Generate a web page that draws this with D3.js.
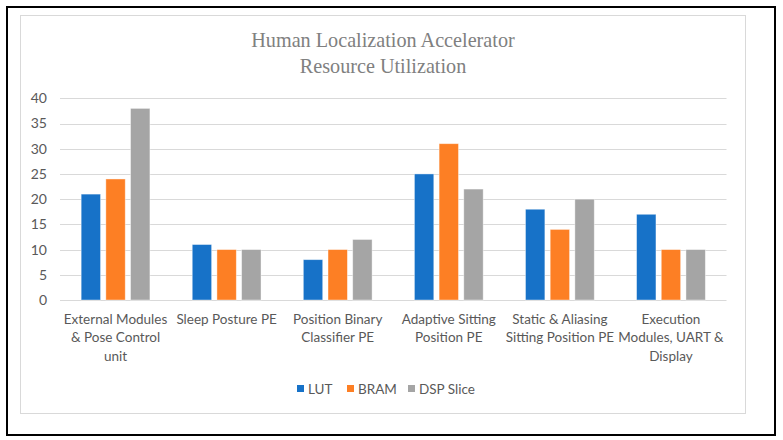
<!DOCTYPE html>
<html>
<head>
<meta charset="utf-8">
<script src="https://cdn.jsdelivr.net/npm/d3@7/dist/d3.min.js"></script>
<style>
  html, body { margin: 0; padding: 0; background: #fff; }
  svg { display: block; }
</style>
</head>
<body>
<svg id="chart" width="783" height="440"></svg>
<script>
const categories = [
  ["External Modules", "& Pose Control", "unit"],
  ["Sleep Posture PE"],
  ["Position Binary", "Classifier PE"],
  ["Adaptive Sitting", "Position PE"],
  ["Static & Aliasing", "Sitting Position PE"],
  ["Execution", "Modules, UART &", "Display"]
];
const seriesNames = ["LUT", "BRAM", "DSP Slice"];
const lutValues  = [21, 11, 8, 25, 18, 17];
const bramValues = [24, 10, 10, 31, 14, 10];
const dspValues  = [38, 10, 12, 22, 20, 10];
const yTicks = [0, 5, 10, 15, 20, 25, 30, 35, 40];
const titleLines = ["Human Localization Accelerator", "Resource Utilization"];
const colors = ["#1772C8", "#FD7F24", "#A5A5A5"];

const seriesValues = [lutValues, bramValues, dspValues];
const svg = d3.select("#chart");
const labelFont = "Lato, 'Open Sans', sans-serif";

// borders
svg.append("rect").attr("x", 7).attr("y", 7).attr("width", 768).attr("height", 428)
  .attr("fill", "none").attr("stroke", "#000").attr("stroke-width", 2);
svg.append("rect").attr("x", 20.5).attr("y", 15.5).attr("width", 725).attr("height", 398)
  .attr("fill", "#fff").attr("stroke", "#d9d9d9").attr("stroke-width", 1);

const plot = { left: 60, right: 726.5, top: 98.3, bottom: 300 };

const x = d3.scaleBand().domain(d3.range(categories.length))
  .range([plot.left, plot.right]).paddingInner(0).paddingOuter(0);
const xSub = d3.scaleBand().domain(d3.range(seriesNames.length))
  .range([0, x.bandwidth()]).paddingInner(0.215).paddingOuter(0.857);
const y = d3.scaleLinear().domain([0, 40]).range([plot.bottom, plot.top]);

// gridlines
svg.append("g").selectAll("line").data(yTicks).join("line")
  .attr("x1", plot.left).attr("x2", plot.right)
  .attr("y1", d => Math.round(y(d)) + 0.5).attr("y2", d => Math.round(y(d)) + 0.5)
  .attr("stroke", "#d9d9d9").attr("stroke-width", 1);

// y axis labels
const yAxis = d3.axisLeft(y).tickValues(yTicks).tickSize(0).tickPadding(0);
const yg = svg.append("g").attr("transform", `translate(47,0)`).call(yAxis);
yg.select(".domain").remove();
yg.selectAll("text").attr("fill", "#595959").attr("font-family", labelFont)
  .attr("font-size", 14);

// bars
const groups = svg.append("g").selectAll("g").data(categories).join("g")
  .attr("transform", (d, i) => `translate(${x(i)},0)`);
groups.selectAll("rect").data((d, i) => seriesValues.map((s, j) => ({ j, v: s[i] })))
  .join("rect")
  .attr("x", d => xSub(d.j)).attr("width", xSub.bandwidth())
  .attr("y", d => y(d.v)).attr("height", d => y(0) - y(d.v))
  .attr("fill", d => colors[d.j])
  .attr("stroke", "#ffffff").attr("stroke-opacity", 0.5).attr("stroke-width", 0.8);

// category labels
const catG = svg.append("g");
categories.forEach((lines, i) => {
  const t = catG.append("text")
    .attr("x", x(i) + x.bandwidth() / 2)
    .attr("text-anchor", "middle")
    .attr("fill", "#595959")
    .attr("font-family", labelFont)
    .attr("font-size", 13.5);
  lines.forEach((ln, k) => {
    t.append("tspan").attr("x", x(i) + x.bandwidth() / 2)
      .attr("y", 324 + k * 18.3).text(ln);
  });
});

// title
const title = svg.append("text").attr("text-anchor", "middle")
  .attr("fill", "#808080").attr("font-family", "'Liberation Serif', serif")
  .attr("font-size", 20.2);
titleLines.forEach((ln, k) => {
  title.append("tspan").attr("x", 383).attr("y", 47 + k * 26).text(ln);
});

// legend
const legendItems = [
  { name: seriesNames[0], sx: 297 },
  { name: seriesNames[1], sx: 347 },
  { name: seriesNames[2], sx: 408 }
];
const lg = svg.append("g");
legendItems.forEach((it, j) => {
  lg.append("rect").attr("x", it.sx).attr("y", 385).attr("width", 7).attr("height", 7)
    .attr("fill", colors[j]);
  lg.append("text").attr("x", it.sx + 11).attr("y", 393.5)
    .attr("fill", "#595959").attr("font-family", labelFont).attr("font-size", 13.5)
    .text(it.name);
});
</script>
</body>
</html>
